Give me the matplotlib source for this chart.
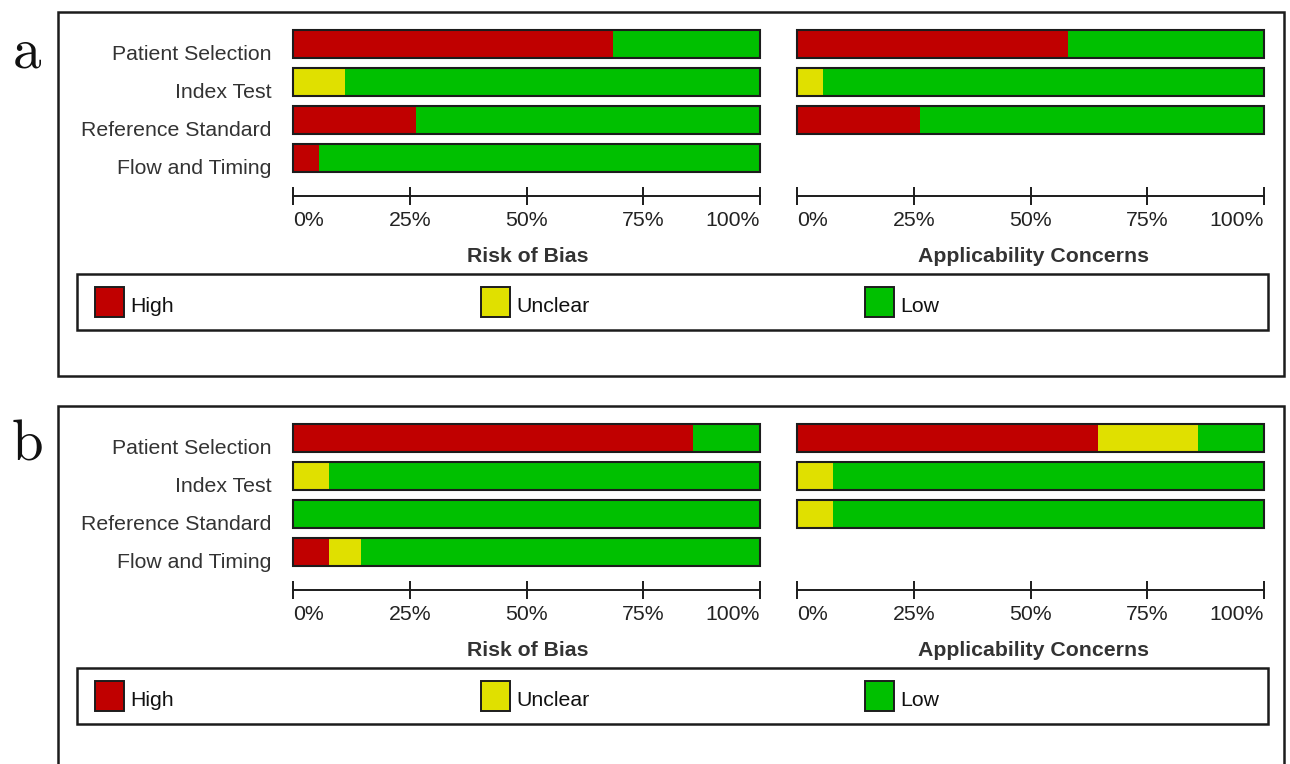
"""QUADAS-2 summary bars: risk of bias and applicability concerns, two study sets."""

import matplotlib.pyplot as plt
from matplotlib.patches import Rectangle

W, H = 1290, 764

domains = ['Patient Selection', 'Index Test', 'Reference Standard', 'Flow and Timing']
levels = ['High', 'Unclear', 'Low']
level_colors = ['#c00000', '#e0e000', '#00c000']
pct_ticks = [0, 25, 50, 75, 100]
pct_labels = ['0%', '25%', '50%', '75%', '100%']

# set a
a_bias_high = [68.4, 0, 26.3, 5.6]
a_bias_unclear = [0, 11.1, 0, 0]
a_bias_low = [31.6, 88.9, 73.7, 94.4]
a_app_high = [57.9, 0, 26.3]
a_app_unclear = [0, 5.5, 0]
a_app_low = [42.1, 94.5, 73.7]

# set b
b_bias_high = [85.7, 0, 0, 7.6]
b_bias_unclear = [0, 7.6, 0, 7.0]
b_bias_low = [14.3, 92.4, 100, 85.4]
b_app_high = [64.5, 0, 0]
b_app_unclear = [21.3, 7.6, 7.6]
b_app_low = [14.2, 92.4, 92.4]

plt.rcParams['font.family'] = ['Liberation Sans', 'DejaVu Sans']
FS = 15.3
EDGE = '#1c1c1c'


def fx(px):
    return px / W


def fy(py):
    return 1 - py / H


def bar_axes(fig, left, right, top, bottom):
    return fig.add_axes([fx(left), fy(bottom), fx(right) - fx(left), (bottom - top) / H])


def draw_bars(ax, high, unclear, low, with_labels):
    rows = list(range(len(high)))
    left = [0] * len(high)
    for vals, color in zip([high, unclear, low], level_colors):
        ax.barh(rows, vals, left=left, height=0.73, color=color, linewidth=0)
        left = [l + v for l, v in zip(left, vals)]
    ax.barh(rows, [100] * len(high), height=0.73, fill=False,
            edgecolor=EDGE, linewidth=1.5, clip_on=False)

    ax.set_xlim(0, 100)
    ax.set_ylim(4, -0.6)
    for side in ['top', 'left', 'right']:
        ax.spines[side].set_visible(False)
    ax.spines['bottom'].set_color(EDGE)
    ax.spines['bottom'].set_linewidth(1.4)
    ax.set_yticks([])
    ax.set_xticks(pct_ticks, pct_labels)
    ax.tick_params(axis='x', direction='inout', length=13, width=1.4,
                   color=EDGE, labelsize=FS, labelcolor='#222222', pad=4.5)
    tl = ax.get_xticklabels()
    tl[0].set_horizontalalignment('left')
    tl[-1].set_horizontalalignment('right')

    if with_labels:
        for i, name in enumerate(domains):
            ax.text(-0.047, i + 0.27, name, transform=ax.get_yaxis_transform(),
                    ha='right', va='center', fontsize=FS, color='#333333')


def draw_panel(fig, top, tag, bias, app, box_bottom):
    # outer frame
    fig.add_artist(Rectangle((fx(58), fy(box_bottom)), fx(1284) - fx(58),
                             (box_bottom - top) / H, transform=fig.transFigure,
                             fill=False, edgecolor=EDGE, linewidth=1.8))
    fig.text(fx(27), fy(top + 55), tag, family='cmr10', fontsize=41,
             ha='center', va='baseline', color='#111111')

    ax_top = top + 9.2
    ax_bottom = top + 184
    ax1 = bar_axes(fig, 293.3, 760, ax_top, ax_bottom)
    draw_bars(ax1, *bias, with_labels=True)
    ax2 = bar_axes(fig, 797.3, 1264, ax_top, ax_bottom)
    draw_bars(ax2, *app, with_labels=False)

    fig.text(fx(528), fy(top + 245), 'Risk of Bias', fontsize=FS,
             fontweight='bold', ha='center', va='center', color='#333333')
    fig.text(fx(1034), fy(top + 245), 'Applicability Concerns', fontsize=FS,
             fontweight='bold', ha='center', va='center', color='#333333')

    # legend box
    lt, lb = top + 262, top + 318
    fig.add_artist(Rectangle((fx(77), fy(lb)), fx(1268) - fx(77), (lb - lt) / H,
                             transform=fig.transFigure, fill=False,
                             edgecolor=EDGE, linewidth=1.8))
    for x0, name, color in zip([95, 481, 865], levels, level_colors):
        fig.add_artist(Rectangle((fx(x0), fy(lt + 43)), 29 / W, 30 / H,
                                 transform=fig.transFigure, facecolor=color,
                                 edgecolor=EDGE, linewidth=1.4))
        fig.text(fx(x0 + 35), fy(lt + 32), name, fontsize=FS,
                 ha='left', va='center', color='#111111')


fig = plt.figure(figsize=(W / 100, H / 100), dpi=100, facecolor='white')

draw_panel(fig, 12, 'a',
           (a_bias_high, a_bias_unclear, a_bias_low),
           (a_app_high, a_app_unclear, a_app_low), box_bottom=376)
draw_panel(fig, 406, 'b',
           (b_bias_high, b_bias_unclear, b_bias_low),
           (b_app_high, b_app_unclear, b_app_low), box_bottom=790)

fig.savefig('out.png', dpi=100, facecolor='white')
